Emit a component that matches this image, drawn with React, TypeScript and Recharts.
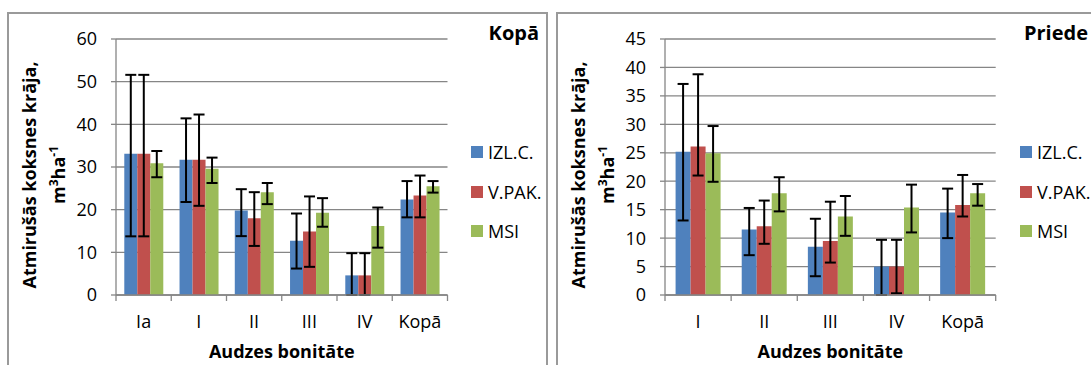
import {
  BarChart,
  Bar,
  XAxis,
  YAxis,
  CartesianGrid,
  ErrorBar,
  Legend,
} from "recharts";

const FONT = '"Open Sans", sans-serif';
const AXIS = "#868686";

// Kopā
const kopaCategories = ["Ia", "I", "II", "III", "IV", "Kopā"];
const kopaIzl = [33.1, 31.7, 19.8, 12.7, 4.6, 22.4];
const kopaVpak = [33.1, 31.7, 18.0, 14.9, 4.6, 23.3];
const kopaMsi = [30.9, 29.6, 24.1, 19.3, 16.2, 25.5];
// error bars as [below, above]
const kopaIzlErr = [[19.35, 18.5], [9.9, 9.7], [6.0, 5.0], [6.5, 6.4], [4.6, 5.2], [4.2, 4.3]];
const kopaVpakErr = [[19.35, 18.5], [10.8, 10.6], [6.5, 6.1], [8.3, 8.2], [4.6, 5.2], [5.1, 4.7]];
const kopaMsiErr = [[3.3, 2.85], [3.35, 2.6], [2.8, 2.15], [3.3, 3.4], [5.1, 4.3], [1.5, 1.2]];
const kopaTicks = [0, 10, 20, 30, 40, 50, 60];

// Priede
const priedeCategories = ["I", "II", "III", "IV", "Kopā"];
const priedeIzl = [25.2, 11.5, 8.5, 5.0, 14.5];
const priedeVpak = [26.1, 12.1, 9.5, 5.0, 15.8];
const priedeMsi = [24.9, 17.9, 13.8, 15.4, 17.9];
const priedeIzlErr = [[12.1, 11.9], [4.5, 3.8], [5.2, 4.9], [5.0, 4.7], [4.5, 4.2]];
const priedeVpakErr = [[5.1, 12.7], [3.1, 4.5], [3.8, 6.9], [4.7, 4.7], [2.0, 5.3]];
const priedeMsiErr = [[5.0, 4.8], [3.2, 2.8], [3.4, 3.6], [4.4, 4.0], [2.2, 1.6]];
const priedeTicks = [0, 5, 10, 15, 20, 25, 30, 35, 40, 45];

const seriesNames = ["IZL.C.", "V.PAK.", "MSI"];
const seriesColors = ["#4F81BD", "#C0504D", "#9BBB59"];

const CategoryTick = ({ x, y, payload, index, count }: any) => {
  const half = typeof payload.offset === "number" ? payload.offset : 0;
  const axisY = y - 20;
  return (
    <g>
      <line x1={x - half} y1={axisY} x2={x - half} y2={axisY + 6} stroke={AXIS} strokeWidth={1.3} />
      {index === count - 1 && (
        <line x1={x + half} y1={axisY} x2={x + half} y2={axisY + 6} stroke={AXIS} strokeWidth={1.3} />
      )}
      <text x={x} y={y} dy="0.71em" textAnchor="middle" fontSize={18} fontFamily={FONT} fill="#000">
        {payload.value}
      </text>
    </g>
  );
};

const YTitle = ({ viewBox }: any) => {
  const cy = viewBox.y + viewBox.height / 2 + 8;
  const x1 = viewBox.x - 20;
  const x2 = viewBox.x + 9;
  return (
    <g fontFamily={FONT} fontWeight="bold" fill="#000" fontSize={18}>
      <text transform={`rotate(-90, ${x1}, ${cy})`} x={x1} y={cy} textAnchor="middle">
        Atmirušās koksnes krāja,
      </text>
      <text transform={`rotate(-90, ${x2}, ${cy})`} x={x2} y={cy} textAnchor="middle">
        m<tspan dy={-7} fontSize={12}>3</tspan>
        <tspan dy={7}>ha</tspan>
        <tspan dy={-7} fontSize={12}>-1</tspan>
      </text>
    </g>
  );
};

const XTitle = ({ viewBox }: any) => (
  <text
    x={viewBox.x + viewBox.width / 2}
    y={viewBox.y + 63}
    textAnchor="middle"
    fontFamily={FONT}
    fontWeight="bold"
    fontSize={18}
    fill="#000"
  >
    Audzes bonitāte
  </text>
);

const makeLegend = (title: string) => () => (
  <div style={{ position: "relative", width: 76, height: 250, fontFamily: FONT }}>
    <div
      style={{
        position: "absolute",
        right: 8,
        top: 23,
        fontSize: 20,
        lineHeight: "20px",
        fontWeight: "bold",
        whiteSpace: "nowrap",
      }}
    >
      {title}
    </div>
    {seriesNames.map((name, i) => (
      <div
        key={name}
        style={{
          position: "absolute",
          left: 0,
          top: 143 + i * 39.5,
          height: 18,
          display: "flex",
          alignItems: "center",
          whiteSpace: "nowrap",
          fontSize: 18,
          lineHeight: "18px",
        }}
      >
        <span style={{ width: 12, height: 12, background: seriesColors[i], display: "inline-block", marginRight: 5 }} />
        <span>{name}</span>
      </div>
    ))}
  </div>
);

interface PanelProps {
  title: string;
  categories: string[];
  izl: number[];
  vpak: number[];
  msi: number[];
  izlErr: number[][];
  vpakErr: number[][];
  msiErr: number[][];
  ticks: number[];
  width: number;
  rightMargin: number;
  gap: string;
}

const Panel = (p: PanelProps) => {
  const data = p.categories.map((c, i) => ({
    name: c,
    izl: p.izl[i],
    vpak: p.vpak[i],
    msi: p.msi[i],
    izlErr: p.izlErr[i],
    vpakErr: p.vpakErr[i],
    msiErr: p.msiErr[i],
  }));
  const keys = ["izl", "vpak", "msi"];
  return (
    <BarChart
      width={p.width}
      height={365}
      data={data}
      margin={{ top: 39, right: p.rightMargin, left: 56, bottom: 40 }}
      barCategoryGap={p.gap}
      barGap={0}
    >
      <CartesianGrid vertical={false} stroke={AXIS} strokeWidth={1.3} />
      <XAxis
        dataKey="name"
        height={30}
        axisLine={{ stroke: AXIS, strokeWidth: 1.3 }}
        tickLine={false}
        tickSize={6}
        tickMargin={14}
        interval={0}
        tick={(t: any) => <CategoryTick {...t} count={p.categories.length} />}
        label={<XTitle />}
      />
      <YAxis
        width={60}
        domain={[0, p.ticks[p.ticks.length - 1]]}
        ticks={p.ticks}
        allowDataOverflow
        axisLine={{ stroke: AXIS, strokeWidth: 1.3 }}
        tickLine={{ stroke: AXIS, strokeWidth: 1.3 }}
        tickSize={5}
        tickMargin={14}
        tick={{ fill: "#000", fontSize: 18, fontFamily: FONT }}
        label={<YTitle />}
      />
      <Legend
        layout="vertical"
        align="center"
        verticalAlign="middle"
        wrapperStyle={{ left: 471, top: 0, width: 76, height: 250 }}
        content={makeLegend(p.title)}
      />
      {keys.map((k, i) => (
        <Bar key={k} dataKey={k} name={seriesNames[i]} fill={seriesColors[i]} isAnimationActive={false}>
          <ErrorBar dataKey={`${k}Err`} width={5.5} stroke="#000" strokeWidth={2} direction="y" />
        </Bar>
      ))}
    </BarChart>
  );
};

const App = () => {
  return (
    <div
      style={{
        position: "fixed",
        left: 0,
        top: 0,
        width: 1091,
        height: 365,
        overflow: "hidden",
        background: "#fff",
        fontFamily: FONT,
      }}
    >
      <div style={{ position: "absolute", left: 7, top: 12, width: 537, height: 400, border: "2px solid #9a9a9a" }} />
      <div style={{ position: "absolute", left: 556, top: 12, width: 600, height: 400, border: "2px solid #9a9a9a" }} />
      <div style={{ position: "absolute", left: 0, top: 0 }}>
        <Panel
          title="Kopā"
          categories={kopaCategories}
          izl={kopaIzl}
          vpak={kopaVpak}
          msi={kopaMsi}
          izlErr={kopaIzlErr}
          vpakErr={kopaVpakErr}
          msiErr={kopaMsiErr}
          ticks={kopaTicks}
          width={547}
          rightMargin={99.5}
          gap="15%"
        />
      </div>
      <div style={{ position: "absolute", left: 549, top: 0 }}>
        <Panel
          title="Priede"
          categories={priedeCategories}
          izl={priedeIzl}
          vpak={priedeVpak}
          msi={priedeMsi}
          izlErr={priedeIzlErr}
          vpakErr={priedeVpakErr}
          msiErr={priedeMsiErr}
          ticks={priedeTicks}
          width={542}
          rightMargin={95.3}
          gap="16%"
        />
      </div>
    </div>
  );
};

export default App;
